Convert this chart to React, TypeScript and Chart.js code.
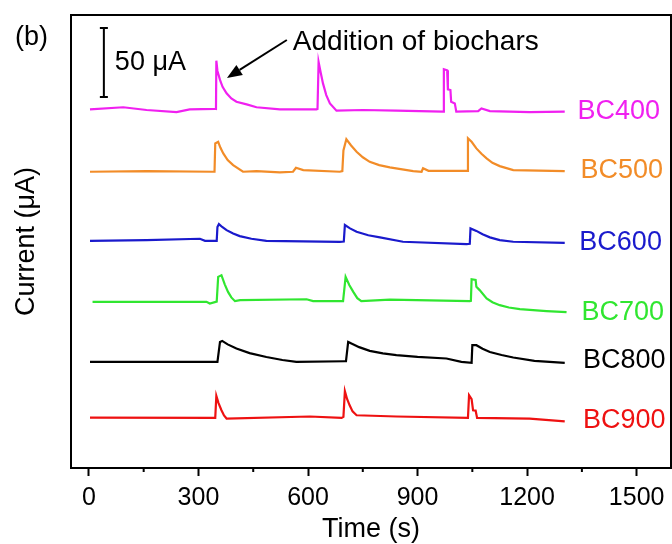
import React, { useEffect, useRef } from "react";
import { Chart, registerables } from "chart.js";

Chart.register(...registerables);

// ---- data: [time (s), current offset (µA)] ----
const BC400: [number, number][] = [
  [3, 259.7], [94, 261.2], [158, 259.2], [240, 257.7], [276, 259.7], [345, 260.1], [348, 260], [349, 294.9],
  [352, 287.5], [359, 281], [366, 276], [377, 271.3], [390, 267.6], [404, 265.2], [432, 263.3], [459, 261.2],
  [523, 259.7], [623, 259.7], [626, 260], [629, 294], [635, 286], [641, 278.5], [650, 270], [660, 264],
  [678, 258.7], [751, 259.2], [842, 258.7], [970, 258], [972, 288.7], [981, 288], [983, 274.2], [990, 273.7],
  [992, 265.2], [1002, 264], [1006, 258], [1066, 258.4], [1075, 260.4], [1098, 258.4], [1207, 257.7], [1303, 258],
];
const BC500: [number, number][] = [
  [3, 214.5], [158, 215], [340, 214.5], [344, 214.5], [346, 235], [354, 236.2], [360, 232], [368, 227.8],
  [380, 223], [395, 219.3], [422, 214.5], [459, 215], [523, 214], [559, 214.5], [567, 217.4], [587, 215.7],
  [687, 214.5], [694, 215], [697, 230], [705, 238], [718, 233.5], [733, 229], [750, 225], [769, 221.7],
  [795, 219.3], [824, 217.7], [888, 215], [911, 214.5], [915, 217], [930, 215.2], [1034, 215.2], [1036, 215.2],
  [1038, 238.7], [1048, 236.2], [1061, 231.4], [1075, 227.5], [1089, 224.2], [1105, 221], [1125, 218.6],
  [1162, 215.7], [1303, 215],
];
const BC600: [number, number][] = [
  [3, 164.5], [158, 165], [304, 166], [318, 164.5], [350, 164.5], [352, 174.5], [356, 176.6], [365, 174.5],
  [377, 172.2], [395, 169.8], [413, 167.9], [445, 166], [486, 164.5], [687, 163.8], [698, 164], [701, 175.9],
  [715, 173.5], [733, 171], [765, 168.5], [797, 167], [860, 163.8], [1034, 162.1], [1043, 162.3], [1045, 173.5],
  [1061, 171.7], [1078, 169.2], [1098, 167], [1125, 165], [1162, 163.8], [1303, 163],
];
const BC700: [number, number][] = [
  [10, 120.3], [322, 120.3], [331, 119.1], [350, 120.5], [354, 138.4], [363, 139.6], [372, 133], [381, 127.5],
  [390, 123.5], [400, 120.8], [414, 121.5], [596, 122.2], [614, 120.8], [696, 120.8], [703, 138.4], [713, 132.5],
  [724, 127.5], [735, 123], [746, 120.8], [824, 121.9], [1043, 120.8], [1046, 121], [1048, 136.7], [1059, 136.2],
  [1061, 131.2], [1070, 128.8], [1089, 122.8], [1105, 120], [1125, 117.9], [1150, 116.2], [1180, 115],
  [1253, 113.6], [1308, 112.8],
];
const BC800: [number, number][] = [
  [3, 76.8], [352, 76.8], [359, 91.3], [365, 92], [380, 89.5], [404, 86.5], [440, 83.2], [486, 80.4],
  [530, 78.2], [568, 76.8], [701, 77.3], [704, 77.3], [710, 91.3], [719, 90.1], [740, 87.5], [769, 84.8],
  [805, 83], [842, 81.7], [900, 80.4], [979, 79.3], [1020, 76.8], [1048, 76.1], [1050, 88.9], [1061, 88.9],
  [1078, 86.3], [1098, 84], [1130, 81.8], [1162, 80], [1220, 77.6], [1303, 76.1],
];
const BC900: [number, number][] = [
  [3, 36.5], [346, 36.3], [349, 52.2], [355, 47], [363, 41.8], [370, 38], [377, 35.8], [605, 37.3],
  [692, 36.3], [697, 37], [701, 55.6], [707, 50], [714, 45.4], [722, 41], [733, 38.2], [842, 37.3],
  [1038, 36.3], [1041, 52.7], [1048, 49.8], [1052, 41.8], [1059, 41.6], [1063, 36.3], [1207, 35.8], [1303, 33.8],
];

const SERIES_NAMES = ["BC400", "BC500", "BC600", "BC700", "BC800", "BC900"];
const SERIES_DATA = [BC400, BC500, BC600, BC700, BC800, BC900];
const SERIES_COLORS = ["#f020f0", "#f28c28", "#1a1acc", "#30e630", "#000000", "#ee1111"];

const X_TICKS = [0, 150, 300, 450, 600, 750, 900, 1050, 1200, 1350, 1500];
const X_LABEL_EVERY = 300;

// label anchors (time, µA) for series names
const LABEL_X = [1338, 1346, 1343, 1349, 1353, 1353];
const LABEL_Y = [252.7, 209.9, 157.7, 107, 72.2, 28.8];

const X_MIN = -49;
const X_MAX = 1594;
const Y_MIN = 0;
const Y_MAX = 328;

const SCALE_BAR_T = 41;
const SCALE_BAR_FROM = 268.6;
const SCALE_BAR_SIZE = 50; // µA
const SCALE_BAR_LABEL = "50 μA";

const ANNOTATION_TEXT = "Addition of biochars";
const ARROW_FROM: [number, number] = [542, 309.9];
const ARROW_TO: [number, number] = [378, 282.4];

const FONT = "'Liberation Sans', Arial, sans-serif";

const isMajor = (v: number) => v % X_LABEL_EVERY === 0;

const decorPlugin = {
  id: "decor",
  afterDraw(chart: any) {
    const { ctx, chartArea, scales } = chart;
    const xs = scales.x;
    const ys = scales.y;
    ctx.save();
    // frame top & right
    ctx.strokeStyle = "#000";
    ctx.lineWidth = 2;
    ctx.beginPath();
    ctx.moveTo(chartArea.left, chartArea.top);
    ctx.lineTo(chartArea.right, chartArea.top);
    ctx.lineTo(chartArea.right, chartArea.bottom);
    ctx.stroke();
    // minor ticks
    ctx.beginPath();
    for (const t of xs.ticks) {
      if (!isMajor(t.value)) {
        const px = xs.getPixelForValue(t.value);
        ctx.moveTo(px, chartArea.bottom);
        ctx.lineTo(px, chartArea.bottom + 4);
      }
    }
    ctx.stroke();
    // scale bar
    const sbx = xs.getPixelForValue(SCALE_BAR_T);
    const sy0 = ys.getPixelForValue(SCALE_BAR_FROM);
    const sy1 = ys.getPixelForValue(SCALE_BAR_FROM + SCALE_BAR_SIZE);
    ctx.beginPath();
    ctx.moveTo(sbx, sy0);
    ctx.lineTo(sbx, sy1);
    ctx.moveTo(sbx - 4, sy0);
    ctx.lineTo(sbx + 4, sy0);
    ctx.moveTo(sbx - 4, sy1);
    ctx.lineTo(sbx + 4, sy1);
    ctx.stroke();
    ctx.fillStyle = "#000";
    ctx.font = `27px ${FONT}`;
    ctx.textBaseline = "alphabetic";
    ctx.textAlign = "left";
    ctx.fillText(SCALE_BAR_LABEL, sbx + 11, sy1 + 42);
    // annotation text and arrow
    const ax0 = xs.getPixelForValue(ARROW_FROM[0]);
    const ay0 = ys.getPixelForValue(ARROW_FROM[1]);
    const ax1 = xs.getPixelForValue(ARROW_TO[0]);
    const ay1 = ys.getPixelForValue(ARROW_TO[1]);
    ctx.font = `28px ${FONT}`;
    ctx.fillText(ANNOTATION_TEXT, ax0 + 6, ay0 + 10);
    const ang = Math.atan2(ay1 - ay0, ax1 - ax0);
    const hl = 15;
    const hw = 6;
    const bx = ax1 - hl * Math.cos(ang);
    const by = ay1 - hl * Math.sin(ang);
    ctx.beginPath();
    ctx.moveTo(ax0, ay0);
    ctx.lineTo(bx, by);
    ctx.stroke();
    ctx.beginPath();
    ctx.moveTo(ax1, ay1);
    ctx.lineTo(bx + hw * Math.sin(ang), by - hw * Math.cos(ang));
    ctx.lineTo(bx - hw * Math.sin(ang), by + hw * Math.cos(ang));
    ctx.closePath();
    ctx.fill();
    // series labels
    ctx.font = `27px ${FONT}`;
    SERIES_NAMES.forEach((name, i) => {
      ctx.fillStyle = SERIES_COLORS[i];
      ctx.fillText(name, xs.getPixelForValue(LABEL_X[i]), ys.getPixelForValue(LABEL_Y[i]));
    });
    // panel label
    ctx.fillStyle = "#000";
    ctx.fillText("(b)", 15, 45);
    ctx.restore();
  },
};

export default function App() {
  const ref = useRef<HTMLCanvasElement | null>(null);
  useEffect(() => {
    document.body.style.margin = "0";
    const canvas = ref.current;
    if (!canvas) return;
    const chart = new Chart(canvas, {
      type: "line",
      data: {
        datasets: SERIES_DATA.map((d, i) => ({
          label: SERIES_NAMES[i],
          data: d.map(([x, y]) => ({ x, y })),
          borderColor: SERIES_COLORS[i],
          backgroundColor: SERIES_COLORS[i],
          borderWidth: 2.2,
          pointRadius: 0,
          tension: 0,
          fill: false,
        })),
      },
      options: {
        animation: false,
        responsive: false,
        maintainAspectRatio: false,
        layout: { padding: { top: 15, right: 1, left: 0, bottom: 0 } },
        plugins: { legend: { display: false }, tooltip: { enabled: false } },
        scales: {
          x: {
            type: "linear",
            min: X_MIN,
            max: X_MAX,
            afterBuildTicks: (s: any) => { s.ticks = X_TICKS.map((value) => ({ value })); },
            afterFit: (s: any) => { s.height = 76; },
            grid: {
              display: true,
              drawOnChartArea: false,
              drawTicks: true,
              tickLength: 8,
              tickWidth: 2,
              tickColor: (c: any) => (c.tick && isMajor(c.tick.value) ? "#000" : "rgba(0,0,0,0)"),
            },
            border: { display: true, color: "#000", width: 2 },
            ticks: {
              autoSkip: false,
              maxRotation: 0,
              padding: 7,
              color: "#000",
              font: { family: FONT, size: 25 },
              callback: (v: any) => (isMajor(Number(v)) ? String(v) : ""),
            },
            title: {
              display: true,
              text: "Time (s)",
              color: "#000",
              font: { family: FONT, size: 27 },
              padding: { top: 0, bottom: -2 },
            },
          },
          y: {
            type: "linear",
            min: Y_MIN,
            max: Y_MAX,
            afterFit: (s: any) => { s.width = 71; },
            grid: { display: false, drawTicks: false },
            border: { display: true, color: "#000", width: 2 },
            ticks: { display: false },
            title: {
              display: true,
              text: "Current (μA)",
              color: "#000",
              font: { family: FONT, size: 27 },
              padding: { top: 10, bottom: 0 },
            },
          },
        },
      },
      plugins: [decorPlugin],
    });
    return () => chart.destroy();
  }, []);
  return (
    <div style={{ position: "absolute", left: 0, top: 0, width: 672, height: 544, background: "#fff" }}>
      <canvas ref={ref} width={672} height={544} style={{ width: 672, height: 544 }} />
    </div>
  );
}
